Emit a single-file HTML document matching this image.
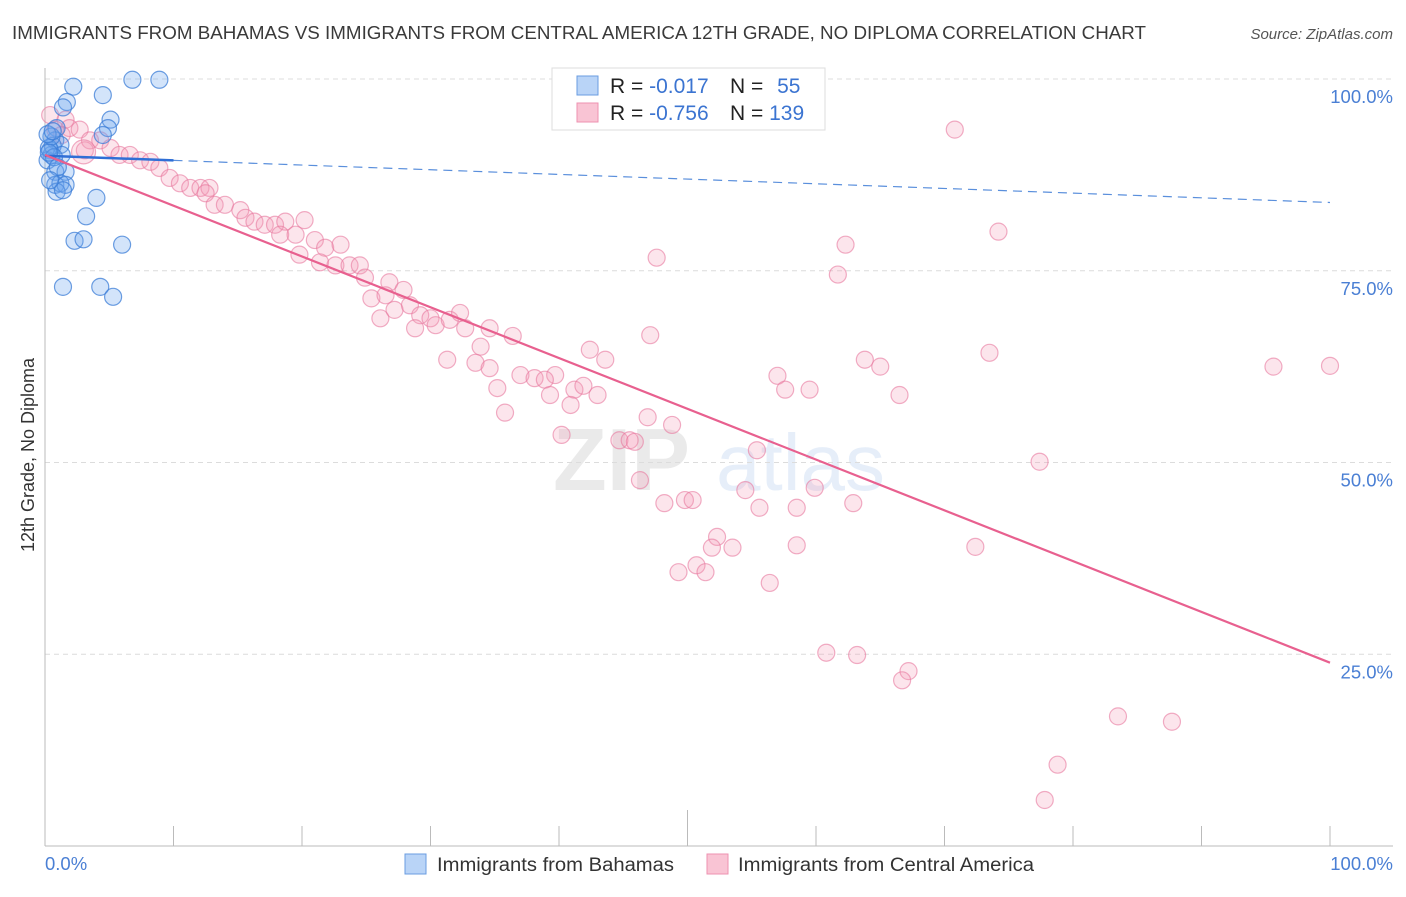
<!DOCTYPE html>
<html><head><meta charset="utf-8">
<style>
html,body{margin:0;padding:0;background:#fff;}
body{width:1406px;height:892px;overflow:hidden;font-family:"Liberation Sans",sans-serif;}
svg text{font-family:"Liberation Sans",sans-serif;}
</style></head>
<body>
<svg id="chart" width="1406" height="892" xmlns="http://www.w3.org/2000/svg">
<text x="12" y="39" font-size="18" fill="#3a3a3a" textLength="1134" lengthAdjust="spacingAndGlyphs">IMMIGRANTS FROM BAHAMAS VS IMMIGRANTS FROM CENTRAL AMERICA 12TH GRADE, NO DIPLOMA CORRELATION CHART</text>
<text x="1393" y="39" font-size="15" fill="#555" font-style="italic" text-anchor="end">Source: ZipAtlas.com</text>
<text transform="translate(34,455) rotate(-90)" font-size="18" fill="#333" text-anchor="middle">12th Grade, No Diploma</text>
<g opacity="0.13">
<text x="553" y="490" font-size="88" fill="#666" font-family="Liberation Serif, serif" font-weight="bold">ZIP</text>
<text x="716" y="490" font-size="80" fill="#4a86d8">atlas</text>
</g>
<g id="grid"></g>
<g id="axes"></g>
<g id="pts"></g>
<g id="trends"></g>
<g>
<rect x="552" y="68" width="273" height="62" fill="#fff" stroke="#ddd"/>
<rect x="577" y="76" width="21" height="19" fill="#b9d4f7" stroke="#6a9ce0"/>
<rect x="577" y="103" width="21" height="19" fill="#f9c4d4" stroke="#ee92b0"/>
<text x="610" y="93" font-size="21" fill="#222">R = <tspan fill="#3b74d1">-0.017</tspan></text>
<text x="730" y="93" font-size="21" fill="#222">N = <tspan fill="#3b74d1" dx="8">55</tspan></text>
<text x="610" y="120" font-size="21" fill="#222">R = <tspan fill="#3b74d1">-0.756</tspan></text>
<text x="730" y="120" font-size="21" fill="#222">N = <tspan fill="#3b74d1">139</tspan></text>
</g>
<g>
<rect x="405" y="854" width="21" height="20" fill="#b9d4f7" stroke="#6a9ce0"/>
<text x="437" y="871" font-size="19" fill="#333" textLength="237" lengthAdjust="spacingAndGlyphs">Immigrants from Bahamas</text>
<rect x="707" y="854" width="21" height="20" fill="#f9c4d4" stroke="#ee92b0"/>
<text x="738" y="871" font-size="19" fill="#333" textLength="296" lengthAdjust="spacingAndGlyphs">Immigrants from Central America</text>
</g>
</svg>
<script>
const yTicks = [25, 50, 75, 100];
const yTickLabels = ["25.0%", "50.0%", "75.0%", "100.0%"];
const xTicks = [0,10,20,30,40,50,60,70,80,90,100];
const blueX = [2.2,6.8,8.9,4.5,1.7,1.4,5.1,4.9,4.5,0.9,0.8,1.2,0.4,0.5,0.2,0.6,1.3,0.8,1.6,0.8,1.2,1.6,0.9,1.4,4.0,3.2,2.3,3.0,6.0,1.4,4.3,5.3,0.3,0.5,0.7,1.0,0.4,0.2,0.6,0.3];
const blueY = [99.0,99.9,99.9,97.9,97.0,96.3,94.7,93.6,92.7,93.6,92.0,91.4,90.7,90.1,89.4,91.3,90.1,87.9,87.9,86.2,86.4,86.2,85.3,85.5,84.5,82.1,78.9,79.1,78.4,72.9,72.9,71.6,91.0,92.5,89.8,88.5,86.8,92.8,93.2,90.4];
const pinkX = [0.4,1.6,1.9,0.8,2.7,1.3,3.5,4.3,3.1,5.1,5.8,6.6,7.4,8.2,8.9,9.7,10.5,11.3,12.1,12.8,12.5,13.2,14.0,15.2,15.6,16.3,17.1,17.9,18.7,20.2,18.3,19.5,21.0,19.8,21.8,23.0,21.4,22.6,23.7,24.5,24.9,26.8,25.4,26.5,27.9,26.1,27.2,28.4,29.2,30.0,28.8,30.4,31.5,32.3,32.7,33.9,34.6,36.4,31.3,33.5,34.6,37.0,38.1,39.7,35.2,35.8,38.9,39.3,41.2,40.9,42.4,43.6,41.9,43.0,47.1,47.6,46.9,40.2,44.7,45.5,45.9,48.8,46.3,48.2,49.8,50.4,54.5,55.6,55.4,59.9,58.5,62.9,52.3,51.9,53.5,50.7,49.3,51.4,58.5,56.4,57.0,57.6,59.5,62.3,61.7,63.8,65.0,66.5,70.8,74.2,73.5,77.4,72.4,60.8,63.2,67.2,66.7,83.5,87.7,78.8,77.8,95.6,100.0,54.2,54.5,3.0];
const pinkY = [95.3,94.7,93.6,93.4,93.4,92.7,92.0,92.0,90.7,91.0,90.1,90.1,89.4,89.2,88.4,87.1,86.4,85.8,85.8,85.8,85.1,83.6,83.6,82.9,81.9,81.4,81.0,81.0,81.4,81.6,79.7,79.7,79.0,77.1,78.0,78.4,76.1,75.7,75.7,75.7,74.1,73.5,71.4,71.8,72.5,68.8,69.9,70.5,69.2,68.8,67.5,67.9,68.6,69.5,67.5,65.1,67.5,66.5,63.4,63.0,62.3,61.4,61.0,61.4,59.7,56.5,60.8,58.8,59.5,57.5,64.7,63.4,60.0,58.8,66.6,76.7,55.9,53.6,52.9,52.9,52.7,54.9,47.7,44.7,45.1,45.1,46.4,44.1,51.6,46.7,44.1,44.7,40.3,38.9,38.9,36.6,35.7,35.7,39.2,34.3,61.3,59.5,59.5,78.4,74.5,63.4,62.5,58.8,93.4,80.1,64.3,50.1,39.0,25.2,24.9,22.8,21.6,16.9,16.2,10.6,6.0,62.5,62.6,99.9,99.2,90.5];
const blueTrend = [90.0, 83.9];
const pinkTrend = [90.1, 23.9];

const NS = "http://www.w3.org/2000/svg";
const X0 = 45, X1 = 1330, Y0 = 846, Y100 = 79;
function xs(v){ return X0 + (X1 - X0) * v / 100; }
function ys(v){ return Y0 - (Y0 - Y100) * v / 100; }
function mk(tag, attrs, parent){ const e = document.createElementNS(NS, tag); for (const k in attrs) e.setAttribute(k, attrs[k]); parent.appendChild(e); return e; }

const grid = document.getElementById('grid');
const axes = document.getElementById('axes');
yTicks.forEach((t, i) => {
  const l = mk('line', {x1: X0, x2: 1393, y1: ys(t), y2: ys(t), stroke: '#dcdcdc', 'stroke-dasharray': '5,4'}, grid);
  
  
  const tx = mk('text', {x: 1393, y: ys(t) + 24, 'font-size': 18.5, fill: '#4a7fd4', 'text-anchor': 'end'}, axes);
  tx.textContent = yTickLabels[i];
  
  
});
const la = mk('line', {x1: X0, x2: X0, y1: 68, y2: Y0, stroke: '#bbb'}, axes);


const ba = mk('line', {x1: X0, x2: 1393, y1: Y0, y2: Y0, stroke: '#bbb'}, axes);


xTicks.forEach(t => {
  const tk = mk('line', {x1: xs(t), x2: xs(t), y1: t === 50 ? 810 : 826, y2: Y0, stroke: '#bbb'}, axes);
  
  
});
const xl0 = mk('text', {x: X0, y: 870, 'font-size': 18.5, fill: '#4a7fd4'}, axes);
xl0.textContent = '0.0%';


const xl1 = mk('text', {x: 1393, y: 870, 'font-size': 18.5, fill: '#4a7fd4', 'text-anchor': 'end'}, axes);
xl1.textContent = '100.0%';



const pts = document.getElementById('pts');
pinkX.forEach((v, i) => {
  const c = mk('circle', {cx: xs(v), cy: ys(pinkY[i]), r: i === pinkX.length - 1 ? 12 : 8.5, fill: 'rgba(244,150,180,0.25)', stroke: 'rgba(232,120,158,0.6)', 'stroke-width': 1.2}, pts);
  
  
});
blueX.forEach((v, i) => {
  const c = mk('circle', {cx: xs(v), cy: ys(blueY[i]), r: 8.5, fill: 'rgba(110,165,240,0.3)', stroke: 'rgba(60,125,215,0.75)', 'stroke-width': 1.2}, pts);
  
  
});

const tr = document.getElementById('trends');
function lerp(a, v){ return a[0] + (a[1] - a[0]) * v / 100; }
const bs = mk('line', {x1: xs(0), y1: ys(lerp(blueTrend, 0)), x2: xs(10), y2: ys(lerp(blueTrend, 10)), stroke: '#2f6fd6', 'stroke-width': 2.5}, tr);


const bd = mk('line', {x1: xs(10), y1: ys(lerp(blueTrend, 10)), x2: xs(100), y2: ys(lerp(blueTrend, 100)), stroke: '#5a8fdc', 'stroke-width': 1.2, 'stroke-dasharray': '9,6'}, tr);


const pl = mk('line', {x1: xs(0), y1: ys(pinkTrend[0]), x2: xs(100), y2: ys(pinkTrend[1]), stroke: '#e8608f', 'stroke-width': 2.2}, tr);


</script>
</body></html>
